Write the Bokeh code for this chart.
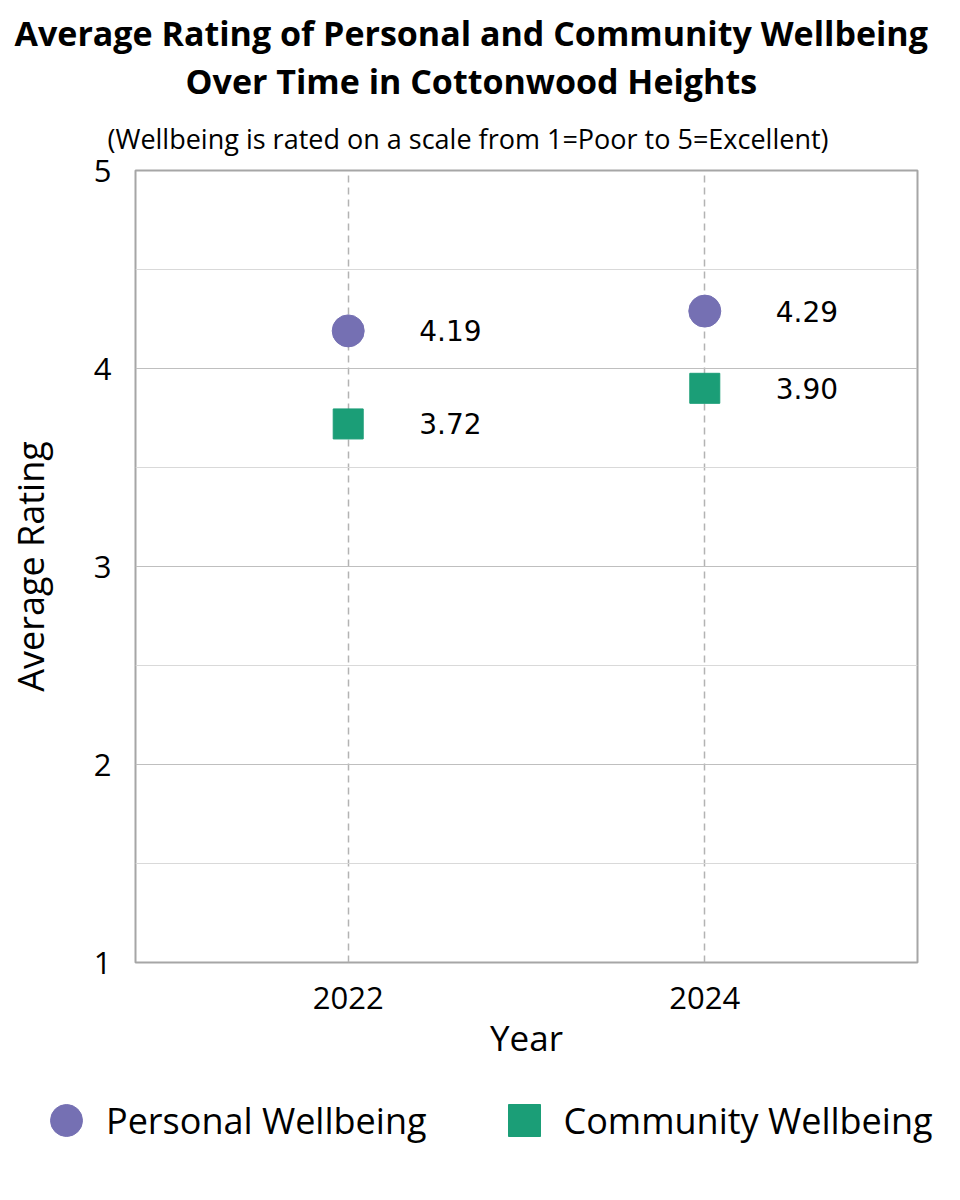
from bokeh.plotting import figure
from bokeh.layouts import column, row
from bokeh.models import (Range1d, FixedTicker, Title, Legend, LegendItem,
                          Label, ColumnDataSource)
from bokeh.embed import file_html
from bokeh.resources import INLINE

# ---- data ----
years = [2022, 2024]
personal = [4.19, 4.29]
community = [3.72, 3.90]
personal_labels = ["4.19", "4.29"]
community_labels = ["3.72", "3.90"]
y_ticks = [1, 2, 3, 4, 5]
y_minor = [1.5, 2.5, 3.5, 4.5]
series_names = ["Personal Wellbeing", "Community Wellbeing"]

PURPLE = "#7570b3"
GREEN = "#1b9e77"
FONT = "Open Sans"

src_p = ColumnDataSource(dict(x=years, y=personal, t=personal_labels))
src_c = ColumnDataSource(dict(x=years, y=community, t=community_labels))

p = figure(width=944, height=1070, output_backend="svg", toolbar_location=None,
           x_range=Range1d(2020.807, 2025.193), y_range=Range1d(1, 5),
           min_border_left=135, min_border_right=27, min_border_top=170,
           min_border_bottom=108)

p.outline_line_color = "#a6a6a6"
p.outline_line_width = 2

# titles (innermost first)
p.add_layout(Title(text="(Wellbeing is rated on a scale from 1=Poor to 5=Excellent)",
                   align="left", offset=-28, text_font=FONT,
                   text_font_size="27px", text_font_style="normal",
                   text_color="black", standoff=28), "above")
p.add_layout(Title(text="Over Time in Cottonwood Heights",
                   align="left", offset=50, text_font=FONT,
                   text_font_size="34px", text_font_style="bold",
                   text_color="black", standoff=0), "above")
p.add_layout(Title(text="Average Rating of Personal and Community Wellbeing",
                   align="left", offset=-121, text_font=FONT,
                   text_font_size="34px", text_font_style="bold",
                   text_color="black", standoff=0), "above")

# axes
p.xaxis.ticker = FixedTicker(ticks=years)
p.yaxis.ticker = FixedTicker(ticks=y_ticks, minor_ticks=y_minor)
for ax in (p.xaxis[0], p.yaxis[0]):
    ax.axis_line_color = None
    ax.major_tick_line_color = None
    ax.minor_tick_line_color = None
    ax.major_tick_out = 0
    ax.major_tick_in = 0
    ax.minor_tick_out = 0
    ax.minor_tick_in = 0
    ax.major_label_text_font = FONT
    ax.major_label_text_font_size = "31px"
    ax.major_label_text_color = "black"
    ax.axis_label_text_font = FONT
    ax.axis_label_text_font_size = "35px"
    ax.axis_label_text_font_style = "normal"
    ax.axis_label_text_color = "black"

p.xaxis.axis_label = "Year"
p.yaxis.axis_label = "Average Rating"
p.yaxis.axis_label_text_font_size = "36px"
p.xaxis.major_label_standoff = 24
p.xaxis.axis_label_standoff = 2
p.yaxis.major_label_standoff = 24
p.yaxis.axis_label_standoff = 36

# grids
p.ygrid.grid_line_color = "#bfbfbf"
p.ygrid.grid_line_width = 1.2
p.ygrid.minor_grid_line_color = "#d9d9d9"
p.ygrid.minor_grid_line_width = 1
p.xgrid.grid_line_color = "#b3b3b3"
p.xgrid.grid_line_width = 1.5
p.xgrid.grid_line_dash = "7 5"

# points
r1 = p.scatter("x", "y", source=src_p, marker="circle", size=32,
               fill_color=PURPLE, line_color=PURPLE)
r2 = p.scatter("x", "y", source=src_c, marker="square", size=30,
               fill_color=GREEN, line_color=GREEN)

# data labels (white box behind each label, widened by a thick white border)
for xs, ys, ts in ((years, personal, personal_labels),
                   (years, community, community_labels)):
    for xv, yv, tv in zip(xs, ys, ts):
        p.add_layout(Label(x=xv, y=yv, text=tv, x_offset=71,
                           text_align="left", text_baseline="middle",
                           text_font="DejaVu Sans", text_font_size="28px",
                           text_color="black", background_fill_color="white",
                           border_line_color="white", border_line_width=14))

# ---- legend strip below the chart ----
q = figure(width=944, height=110, output_backend="svg", toolbar_location=None,
           x_range=Range1d(0, 1), y_range=Range1d(0, 1),
           x_axis_type=None, y_axis_type=None,
           min_border_left=0, min_border_right=0, min_border_top=0, min_border_bottom=0)
q.outline_line_color = None
q.xgrid.visible = False
q.ygrid.visible = False
# proxy renderers for the legend (their data lies outside this strip's ranges)
l1 = q.scatter("x", "y", source=src_p, marker="circle",
               fill_color=PURPLE, line_color=PURPLE)
l2 = q.scatter("x", "y", source=src_c, marker="square",
               fill_color=GREEN, line_color=GREEN)
legend = Legend(items=[LegendItem(label=series_names[0], renderers=[l1]),
                       LegendItem(label=series_names[1], renderers=[l2])],
                orientation="horizontal", location=(26, 20),
                glyph_width=80, glyph_height=80, label_standoff=0, spacing=57,
                label_text_font=FONT, label_text_font_size="36px",
                label_text_color="black", border_line_color=None,
                background_fill_color=None, padding=0, margin=0)
q.add_layout(legend, "center")

open("out.html", "w").write(file_html(column(p, row(q), spacing=0), INLINE))
